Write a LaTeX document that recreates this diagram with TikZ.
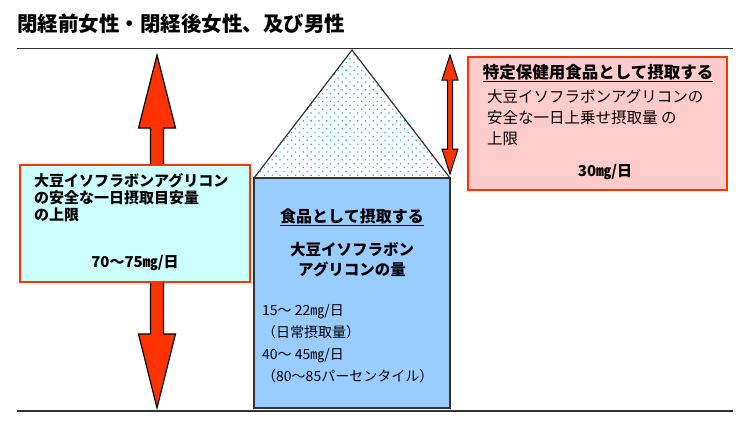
\documentclass[tikz,border=0pt]{standalone}
\usepackage{fontspec}
\setmainfont{Noto Sans CJK JP}
\usetikzlibrary{patterns.meta}

\definecolor{arrowred}{HTML}{FF3300}
\definecolor{safecyan}{HTML}{CCFFFF}
\definecolor{foodblue}{HTML}{99CCFF}
\definecolor{extrapink}{HTML}{FFCCCC}
\definecolor{dotteal}{HTML}{22BBBB}
\definecolor{edgegray}{HTML}{333333}

\tikzset{
  limitbox/.style={draw=arrowred, line width=2pt, inner sep=0pt},
  jtext/.style={inner sep=0pt, align=left},
  rangeline/.style={draw=edgegray, line width=1.6pt},
  bigarrow/.style={fill=arrowred, draw=black, line width=1.2pt, line join=miter}
}

\begin{document}
\begin{tikzpicture}[x=1pt, y=-1pt]
  \useasboundingbox (0,0) rectangle (750,432);

  % title
  \node[jtext, anchor=west, font=\bfseries\fontsize{20.5}{22}\selectfont] (title) at (17,24)
    {閉経前女性・閉経後女性、及び男性};

  % upper and lower limit lines
  \draw[rangeline] (17,48.5) -- (733,48.5);
  \draw[rangeline] (17,411) -- (733,411);

  % big double arrow (left)
  \draw[bigarrow] (157,55) -- (175.5,128) -- (163.5,128) -- (163.5,334) -- (175.5,334)
    -- (157,408) -- (138.5,334) -- (150.5,334) -- (150.5,128) -- (138.5,128) -- cycle;

  % small double arrow (right)
  \draw[bigarrow, line width=1pt] (450,55) -- (458,80) -- (452.5,80) -- (452.5,149) -- (458,149)
    -- (450,174) -- (442,149) -- (447.5,149) -- (447.5,80) -- (442,80) -- cycle;

  % house: food intake
  \filldraw[fill=foodblue, draw=edgegray, line width=1.2pt] (254,178) rectangle (450,408);
  \draw[pattern={Dots[distance=5.5pt, radius=0.9pt, angle=45]}, pattern color=dotteal,
        draw=edgegray, line width=1.2pt] (254,178) -- (352,50) -- (450,178);

  % left box: safe daily intake
  \node[limitbox, fill=safecyan, minimum width=230, minimum height=117] (safebox) at (135,223.5) {};
  \node[jtext, anchor=north west, font=\bfseries\fontsize{15}{17}\selectfont] (safetext) at (34,173)
    {大豆イソフラボンアグリコン\\の安全な一日摂取目安量\\の上限};
  \node[jtext, font=\bfseries\fontsize{15}{17}\selectfont] (safeval) at (135,263) {70〜75㎎/日};

  % texts in the house
  \node[jtext, font=\bfseries\fontsize{16}{18}\selectfont] (foodhead) at (352,217)
    {\underline{食品として摂取する}};
  \node[jtext, align=center, font=\bfseries\fontsize{15.5}{20}\selectfont] (foodname) at (352,260)
    {大豆イソフラボン\\アグリコンの量};
  \node[jtext, anchor=north west, font=\fontsize{14}{22}\selectfont] (foodval) at (262,304)
    {15〜 22㎎/日\\（日常摂取量）\\40〜 45㎎/日\\ （80〜85パーセンタイル）};

  % right box: additional intake
  \node[limitbox, fill=extrapink, minimum width=259, minimum height=133] (extrabox) at (597.5,123.5) {};
  \node[jtext, font=\bfseries\fontsize{16.5}{18}\selectfont] (extrahead) at (598,73)
    {\underline{特定保健用食品として摂取する}};
  \node[jtext, anchor=north west, font=\fontsize{15.5}{21}\selectfont] (extratext) at (487,89)
    {大豆イソフラボンアグリコンの\\安全な一日上乗せ摂取量 の\\上限};
  \node[jtext, font=\bfseries\fontsize{15}{17}\selectfont] (extraval) at (605,172) {30㎎/日};
\end{tikzpicture}
\end{document}
